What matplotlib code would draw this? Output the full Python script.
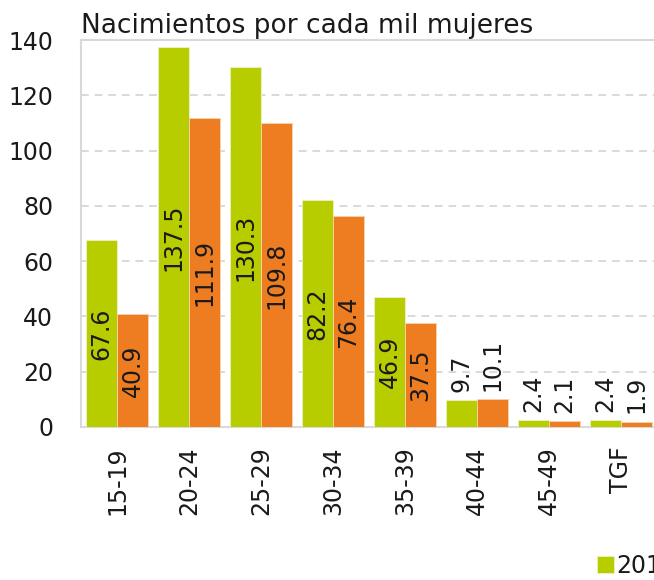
import matplotlib
matplotlib.use('Agg')
import matplotlib.pyplot as plt
import numpy as np

# Datos
grupos = ['15-19', '20-24', '25-29', '30-34', '35-39', '40-44', '45-49', 'TGF']
anio_1 = [67.6, 137.5, 130.3, 82.2, 46.9, 9.7, 2.4, 2.4]
anio_2 = [40.9, 111.9, 109.8, 76.4, 37.5, 10.1, 2.1, 1.9]
etiquetas = ['2014', '2018']

verde = '#b8cd00'
naranja = '#ee7d22'
gris = '#d9d9d9'
texto = '#1a1a1a'

plt.rcParams['font.family'] = ['DejaVu Sans']

fig = plt.figure(figsize=(6.54, 5.8), dpi=100)
# the plot area runs a little past the right edge, as in the original
ax = fig.add_axes([81 / 654, 153 / 580, 576 / 654, 387 / 580])

x = np.arange(len(grupos))
ancho = 0.43
b1 = ax.bar(x - ancho / 2, anio_1, ancho, color=verde, edgecolor='#eef3c8', linewidth=0.6,
            label=etiquetas[0], zorder=3)
b2 = ax.bar(x + ancho / 2, anio_2, ancho, color=naranja, edgecolor='#f8d2b0', linewidth=0.6,
            label=etiquetas[1], zorder=3)

# value labels: centered inside tall bars, above the short ones
for barras in [b1, b2]:
    for b in barras:
        v = b.get_height()
        cx = b.get_x() + b.get_width() / 2
        if v > 20:
            ax.text(cx, v / 2, f'{v:.1f}', rotation=90, ha='center', va='center',
                    fontsize=17, color=texto, zorder=4)
        else:
            ax.annotate(f'{v:.1f}', (cx, v), xytext=(0, 6), textcoords='offset points',
                        rotation=90, ha='center', va='bottom', fontsize=17,
                        color=texto, zorder=4)

ax.set_xlim(-0.5, 7.5)
ax.set_ylim(0, 140)
ax.set_yticks(range(0, 141, 20))
ax.set_xticks(x)
ax.set_xticklabels(grupos, rotation=90)
ax.tick_params(axis='y', length=0, pad=20, labelsize=17, labelcolor=texto)
ax.tick_params(axis='x', length=0, pad=14, labelsize=17, labelcolor=texto)

ax.grid(axis='y', color=gris, linestyle=(0, (4, 3)), linewidth=1.4, zorder=0)
for lado in ax.spines.values():
    lado.set_color(gris)
    lado.set_linewidth(1.5)

ax.set_title('Nacimientos por cada mil mujeres', loc='left', fontsize=19,
             color=texto, pad=5)

# legend sits mostly outside the image, only the first entry peeks in
fig.legend(loc='lower left', bbox_to_anchor=(597 / 654, 2 / 580), ncol=2, frameon=False,
           fontsize=17, handlelength=0.7, handleheight=0.7, handletextpad=0.1,
           borderpad=0, borderaxespad=0, labelcolor=texto)

plt.savefig('out.png', dpi=100)
